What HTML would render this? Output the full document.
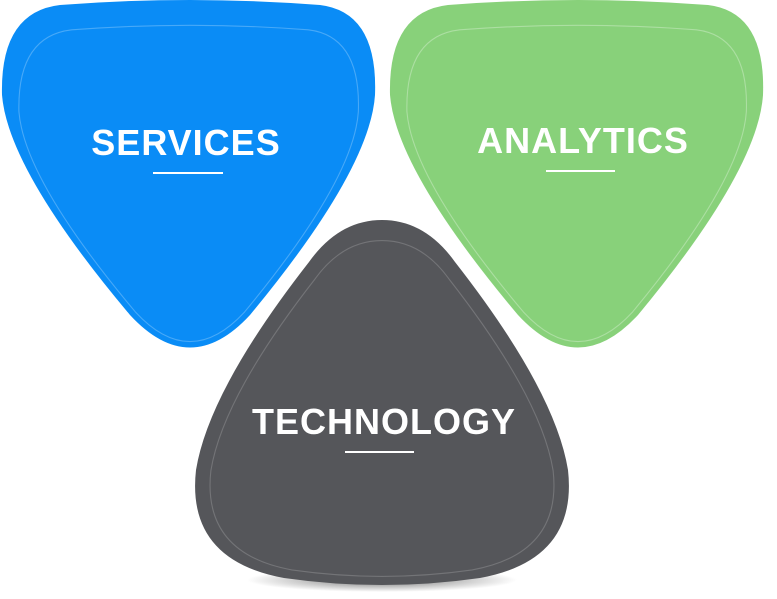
<!DOCTYPE html>
<html><head><meta charset="utf-8"><style>
html,body{margin:0;padding:0;background:#fff;}
svg{display:block}
text{font-family:"Liberation Sans",sans-serif;font-weight:bold;fill:#fff;text-anchor:middle;font-size:36px;letter-spacing:1px}
</style></head><body>
<svg width="777" height="599" viewBox="0 0 777 599">
<defs>
<radialGradient id="sh" cx="0.5" cy="0.5" r="0.5">
<stop offset="0" stop-color="#000" stop-opacity="0.55"/>
<stop offset="1" stop-color="#000" stop-opacity="0"/>
</radialGradient>
<path id="inv" d="M60,5 Q190,-5 320,5 Q378,12 375,95 Q370,170 250,315 Q190,380 130,315 Q8,170 2,95 Q0,12 60,5 Z"/>
</defs>
<ellipse cx="382" cy="580" rx="135" ry="12" fill="url(#sh)"/>
<use href="#inv" fill="#0a8cf6"/>
<use href="#inv" fill="none" stroke="#ffffff" stroke-opacity="0.25" stroke-width="1.2" transform="translate(190,180) scale(0.91) translate(-190,-170)"/>
<g transform="translate(388,0)">
<use href="#inv" fill="#88d17a"/>
<use href="#inv" fill="none" stroke="#ffffff" stroke-opacity="0.3" stroke-width="1.2" transform="translate(190,180) scale(0.91) translate(-190,-170)"/>
</g>
<path d="M382,220 Q425,220 455,262 Q555,390 568,470 Q578,560 480,578 Q382,592 284,578 Q186,560 196,470 Q209,390 309,262 Q339,220 382,220 Z" fill="#55565a"/>
<path d="M382,220 Q425,220 455,262 Q555,390 568,470 Q578,560 480,578 Q382,592 284,578 Q186,560 196,470 Q209,390 309,262 Q339,220 382,220 Z" fill="none" stroke="#fff" stroke-opacity="0.18" stroke-width="1.2" transform="translate(382,420) scale(0.92) translate(-382,-415)"/>
<text x="186" y="155">SERVICES</text>
<rect x="153" y="172" width="70" height="2" fill="#fff"/>
<text x="583" y="153">ANALYTICS</text>
<rect x="546" y="170" width="69" height="2" fill="#fff"/>
<text x="384" y="434">TECHNOLOGY</text>
<rect x="345" y="451" width="69" height="2" fill="#fff"/>
</svg>
</body></html>
